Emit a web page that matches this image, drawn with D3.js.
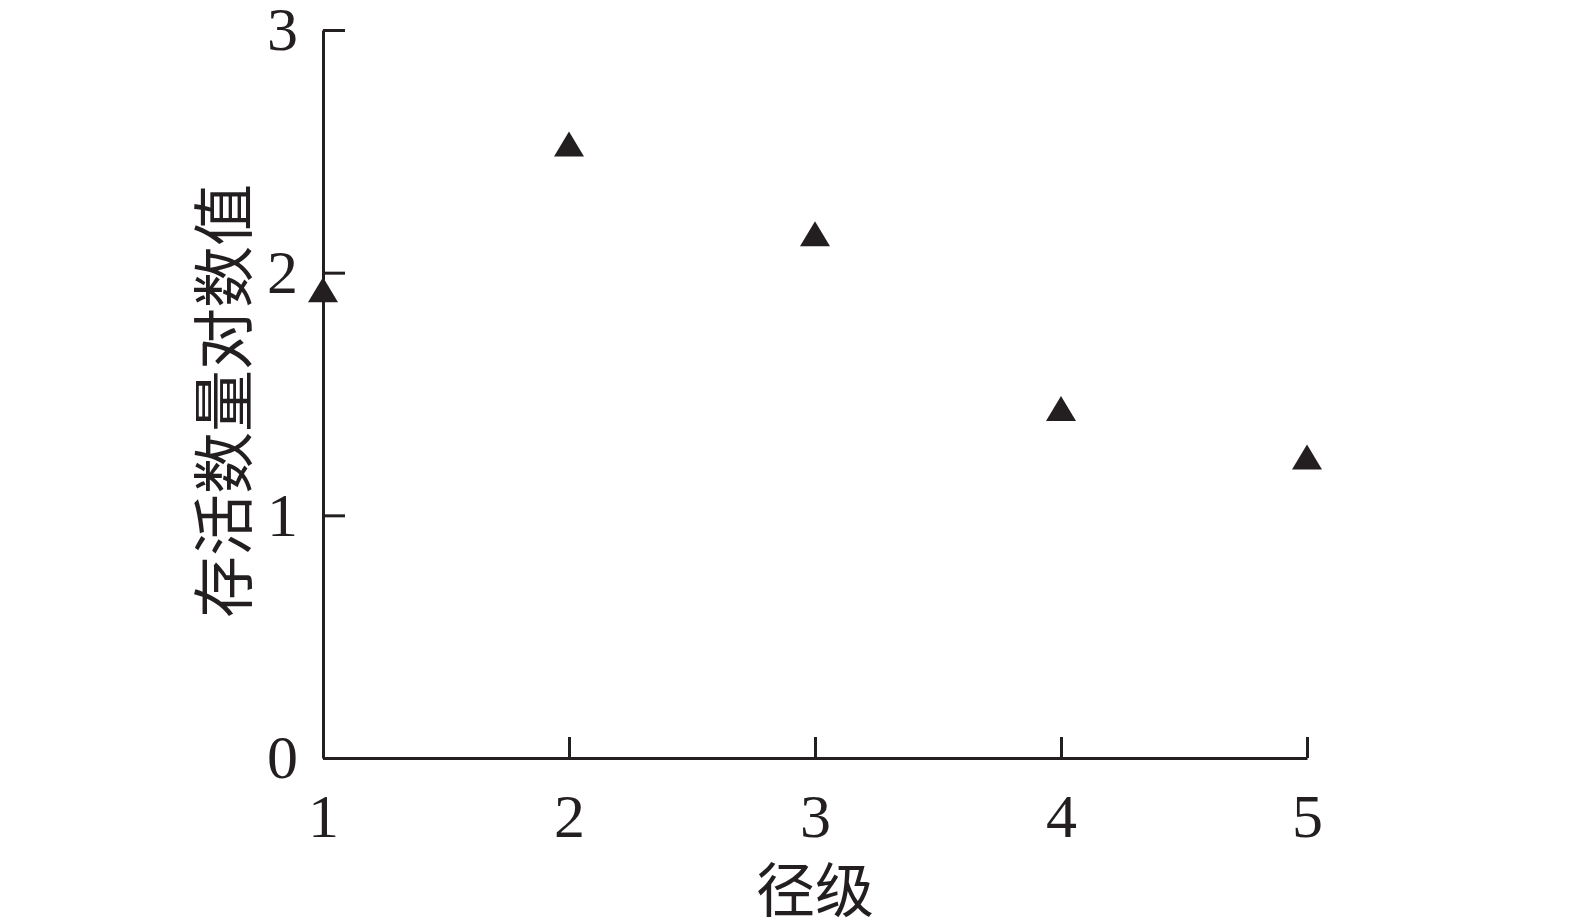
<!doctype html>
<html>
<head>
<meta charset="UTF-8">
<title>径级 - 存活数量对数值</title>
<style>
  body { margin: 0; background: #fff; }
  .tick text { font-family: "Liberation Serif", "DejaVu Serif", serif; fill: #231f20; }
  .axis-title { font-family: "Noto Sans CJK SC", sans-serif; fill: #231f20; }
</style>
<script src="https://cdn.jsdelivr.net/npm/d3@7"></script>
</head>
<body>
<svg id="chart" width="1575" height="921"></svg>
<script>
// data
var classes = [1, 2, 3, 4, 5];
var logCount = [1.93, 2.53, 2.16, 1.44, 1.24];
var xTicks = [1, 2, 3, 4, 5];
var yTicks = [0, 1, 2, 3];
var xTitle = "径级";
var yTitle = "存活数量对数值";

var svg = d3.select("#chart");
var ink = "#231f20";

// plot box
var plotLeft = 323, plotRight = 1307, plotTop = 30, plotBottom = 758;

var x = d3.scaleLinear().domain([1, 5]).range([plotLeft, plotRight]);
var y = d3.scaleLinear().domain([0, 3]).range([plotBottom, plotTop]);

// y axis, ticks pointing inward
var yAxis = svg.append("g")
    .attr("transform", "translate(" + plotLeft + ",0)")
    .call(d3.axisLeft(y).tickValues(yTicks).tickFormat(d3.format("d"))
        .tickSizeInner(-22).tickSizeOuter(0).tickPadding(25));

// x axis, ticks pointing inward
var xAxis = svg.append("g")
    .attr("transform", "translate(0," + plotBottom + ")")
    .call(d3.axisBottom(x).tickValues(xTicks).tickFormat(d3.format("d"))
        .tickSizeInner(-21).tickSizeOuter(0).tickPadding(35));

[xAxis, yAxis].forEach(function(g) {
    g.select(".domain").attr("stroke", ink).attr("stroke-width", 3);
    g.selectAll(".tick line").attr("stroke", ink).attr("stroke-width", 3);
    g.selectAll(".tick text").attr("font-size", 62).attr("fill", ink);
});

// triangle markers
var tri = "M0,-12.5L15,12.5L-15,12.5Z";
svg.append("g").selectAll("path")
    .data(classes)
    .enter().append("path")
    .attr("d", tri)
    .attr("transform", function(d, i) {
        return "translate(" + x(d) + "," + y(logCount[i]) + ")";
    })
    .attr("fill", ink);

// axis titles
svg.append("text")
    .attr("class", "axis-title")
    .attr("x", x(3))
    .attr("y", 886)
    .attr("text-anchor", "middle")
    .attr("dominant-baseline", "central")
    .attr("font-size", 59)
    .text(xTitle);

svg.append("text")
    .attr("class", "axis-title")
    .attr("transform", "translate(220,401) rotate(-90)")
    .attr("text-anchor", "middle")
    .attr("dominant-baseline", "central")
    .attr("font-size", 62)
    .text(yTitle);
</script>
</body>
</html>
